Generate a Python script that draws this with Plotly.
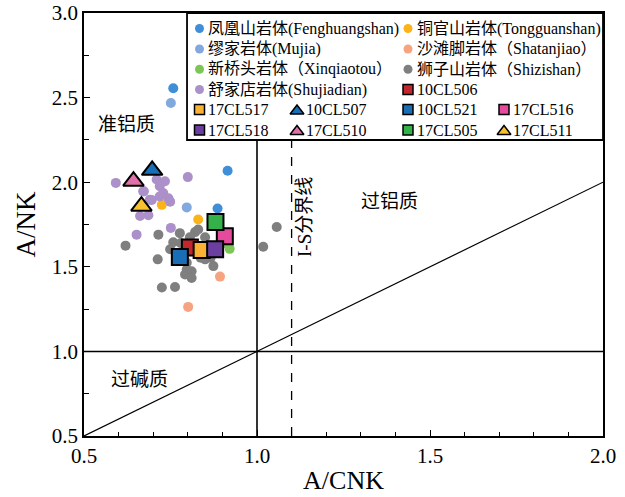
import plotly.graph_objects as go

# ---------------- data ----------------
feng_x = [0.758, 0.915, 0.886]
feng_y = [2.555, 2.068, 1.845]
mujia_x = [0.751, 0.797]
mujia_y = [2.468, 1.851]
tong_x = [0.725, 0.830, 0.845]
tong_y = [1.866, 1.780, 1.600]
shatan_x = [0.893, 0.801]
shatan_y = [1.442, 1.263]
xinq_x = [0.921, 0.905]
xinq_y = [1.606, 1.640]
shizi_x = [0.620, 0.715, 0.713, 0.725, 0.763, 0.777, 0.758, 0.749, 0.821, 0.850,
           0.806, 0.792, 0.811, 0.797, 0.811, 0.850, 0.874, 0.866, 1.018, 1.057,
           0.797, 0.837, 0.780, 0.830]
shizi_y = [1.625, 1.690, 1.544, 1.378, 1.381, 1.699, 1.645, 1.604, 1.705, 1.675,
           1.675, 1.454, 1.474, 1.484, 1.434, 1.544, 1.504, 1.554, 1.619, 1.735,
           1.524, 1.554, 1.640, 1.720]
shujia_x = [0.592, 0.800, 0.710, 0.734, 0.719, 0.729, 0.744, 0.671, 0.690, 0.719,
            0.749, 0.686, 0.751, 0.652, 0.662, 0.673, 0.696]
shujia_y = [1.996, 2.030, 2.016, 2.006, 1.976, 1.936, 1.905, 1.946, 1.896, 1.916,
            1.885, 1.805, 1.730, 1.690, 1.800, 1.946, 1.895]

group_names = ["凤凰山岩体(Fenghuangshan)", "铜官山岩体(Tongguanshan)",
               "缪家岩体(Mujia)", "沙滩脚岩体（Shatanjiao）",
               "新桥头岩体（Xinqiaotou）", "狮子山岩体（Shizishan）",
               "舒家店岩体(Shujiadian)"]

sample_names = ["10CL506", "17CL517", "10CL507", "10CL521", "17CL516",
                "17CL518", "17CL510", "17CL505", "17CL511"]
sample_x = [0.806, 0.840, 0.697, 0.777, 0.907, 0.879, 0.643, 0.880, 0.666]
sample_y = [1.614, 1.600, 2.070, 1.558, 1.680, 1.604, 2.006, 1.765, 1.858]

x_ticks = [0.5, 1.0, 1.5, 2.0]
y_ticks = [0.5, 1.0, 1.5, 2.0, 2.5, 3.0]

# ---------------- styles ----------------
group_colors = ["#3f8fd8", "#fbb31a", "#81a9dd", "#f6a47f", "#7cc656", "#7f7f80", "#ab90c9"]
sample_colors = ["#c1272d", "#f9b233", "#1a6eb5", "#1a6eb5", "#e64a9c",
                 "#6b3fa0", "#e070aa", "#33b24a", "#f9c02f"]
sample_symbols = ["square", "square", "triangle-up", "square", "square",
                  "square", "triangle-up", "square", "triangle-up"]

FONT = "Liberation Serif, Noto Sans CJK SC, serif"
XR = [0.5, 2.0]
YR = [0.5, 3.0]

fig = go.Figure()

groups = [(feng_x, feng_y), (tong_x, tong_y), (mujia_x, mujia_y), (shatan_x, shatan_y),
          (xinq_x, xinq_y), (shizi_x, shizi_y), (shujia_x, shujia_y)]
order = [5, 4, 0, 2, 1, 3, 6]
for i in order:
    gx, gy = groups[i]
    fig.add_trace(go.Scatter(x=gx, y=gy, mode="markers", name=group_names[i],
                             marker=dict(size=10, color=group_colors[i], line=dict(width=0)),
                             showlegend=False))

for i, n in enumerate(sample_names):
    sym = sample_symbols[i]
    fig.add_trace(go.Scatter(x=[sample_x[i]], y=[sample_y[i]], mode="markers", name=n,
                             marker=dict(size=18 if sym.startswith("tri") else 16,
                                         symbol=sym, color=sample_colors[i],
                                         line=dict(width=2, color="black")),
                             showlegend=False))

# ---------------- reference lines ----------------
line_top = 2.25
shapes = [
    dict(type="line", x0=1.0, x1=1.0, y0=0.5, y1=line_top, xref="x", yref="y",
         line=dict(color="black", width=1.6)),
    dict(type="line", x0=1.1, x1=1.1, y0=0.5, y1=line_top, xref="x", yref="y",
         line=dict(color="black", width=1.3, dash="dash")),
    dict(type="line", x0=0.5, x1=2.0, y0=1.0, y1=1.0, xref="x", yref="y",
         line=dict(color="black", width=1.5)),
    dict(type="line", x0=0.5, x1=2.0, y0=0.5, y1=2.0, xref="x", yref="y",
         line=dict(color="black", width=1.2)),
    dict(type="rect", x0=0.1985, x1=1.0, y0=0.6998, y1=1.0, xref="paper", yref="paper",
         fillcolor="white", line=dict(color="black", width=1.8), layer="below"),
]

# ---------------- manual legend (pixel grid of the plot area) ----------------
L, R_, T, B = 84, 603, 13, 436
def fx(px):
    return XR[0] + (px - L) / (R_ - L) * (XR[1] - XR[0])
def fy(py):
    return YR[0] + (B - py) / (B - T) * (YR[1] - YR[0])

row_y = [28.5, 49.0, 69.3, 89.5, 109.5, 130.0]
col_x = [199.5, 297.0, 408.0, 504.0]

legend_items = [
    (0, 0, group_names[0], group_colors[0], "circle"),
    (0, 2, group_names[1], group_colors[1], "circle"),
    (1, 0, group_names[2], group_colors[2], "circle"),
    (1, 2, group_names[3], group_colors[3], "circle"),
    (2, 0, group_names[4], group_colors[4], "circle"),
    (2, 2, group_names[5], group_colors[5], "circle"),
    (3, 0, group_names[6], group_colors[6], "circle"),
    (3, 2, sample_names[0], sample_colors[0], "square"),
    (4, 0, sample_names[1], sample_colors[1], "square"),
    (4, 1, sample_names[2], sample_colors[2], "triangle-up"),
    (4, 2, sample_names[3], sample_colors[3], "square"),
    (4, 3, sample_names[4], sample_colors[4], "square"),
    (5, 0, sample_names[5], sample_colors[5], "square"),
    (5, 1, sample_names[6], sample_colors[6], "triangle-up"),
    (5, 2, sample_names[7], sample_colors[7], "square"),
    (5, 3, sample_names[8], sample_colors[8], "triangle-up"),
]

annotations = []
for r, c, lab, colr, sym in legend_items:
    mx = col_x[c]
    my = row_y[r]
    if sym == "circle":
        mk = dict(size=9, color=colr, symbol=sym, line=dict(width=0))
    elif sym == "square":
        mk = dict(size=10, color=colr, symbol=sym, line=dict(width=1.5, color="black"))
    else:
        mk = dict(size=12, color=colr, symbol=sym, line=dict(width=1.5, color="black"))
        my = my + 1.5
    fig.add_trace(go.Scatter(x=[fx(mx)], y=[fy(my)], mode="markers", marker=mk,
                             showlegend=False, hoverinfo="skip", cliponaxis=False))
    annotations.append(dict(x=fx(mx + 6.5), y=fy(row_y[r]), xref="x", yref="y", text=lab,
                            showarrow=False, xanchor="left", yanchor="middle",
                            font=dict(family=FONT, size=16, color="black")))

# ---------------- region labels ----------------
annotations += [
    dict(x=0.624, y=2.343, text="准铝质", showarrow=False, xref="x", yref="y",
         font=dict(family=FONT, size=19, color="black")),
    dict(x=1.382, y=1.886, text="过铝质", showarrow=False, xref="x", yref="y",
         font=dict(family=FONT, size=19, color="black")),
    dict(x=0.659, y=0.831, text="过碱质", showarrow=False, xref="x", yref="y",
         font=dict(family=FONT, size=19, color="black")),
    dict(x=1.139, y=1.795, text="I-S分界线", showarrow=False, xref="x", yref="y",
         textangle=-90, font=dict(family=FONT, size=19, color="black")),
]

fig.update_layout(
    width=625, height=497,
    margin=dict(l=84, r=22, t=13, b=61, autoexpand=False),
    plot_bgcolor="white", paper_bgcolor="white",
    shapes=shapes, annotations=annotations,
    showlegend=False,
    font=dict(family=FONT, color="black"),
    xaxis=dict(range=XR, tickvals=x_ticks, ticktext=[f"{v:.1f}" for v in x_ticks],
               automargin=False, ticklabeloverflow="allow",
               ticks="inside", ticklen=6, tickwidth=1.3, tickcolor="black",
               minor=dict(tickmode="linear", tick0=0.5, dtick=0.1, ticks="inside",
                          ticklen=4, tickwidth=1.3, tickcolor="black", showgrid=False),
               showline=True, linewidth=1.8, linecolor="black", mirror=True,
               showgrid=False, zeroline=False,
               tickfont=dict(family=FONT, size=21, color="black"),
               title=dict(text="A/CNK", standoff=4,
                          font=dict(family=FONT, size=26, color="black"))),
    yaxis=dict(range=YR, tickvals=y_ticks, ticktext=[f"{v:.1f}" for v in y_ticks],
               automargin=False, ticklabeloverflow="allow",
               ticks="inside", ticklen=6, tickwidth=1.3, tickcolor="black",
               minor=dict(tickmode="linear", tick0=0.5, dtick=0.25, ticks="inside",
                          ticklen=5, tickwidth=1.3, tickcolor="black", showgrid=False),
               showline=True, linewidth=1.8, linecolor="black", mirror=True,
               showgrid=False, zeroline=False,
               tickfont=dict(family=FONT, size=21, color="black"),
               title=dict(text="A/NK", standoff=8,
                          font=dict(family=FONT, size=27, color="black"))),
)

# remove the default 8px page margin so the figure fills the window exactly
fig.write_html("out.html",
               config={"displayModeBar": False},
               post_script="document.body.style.margin='0px';document.body.style.overflow='hidden';")
